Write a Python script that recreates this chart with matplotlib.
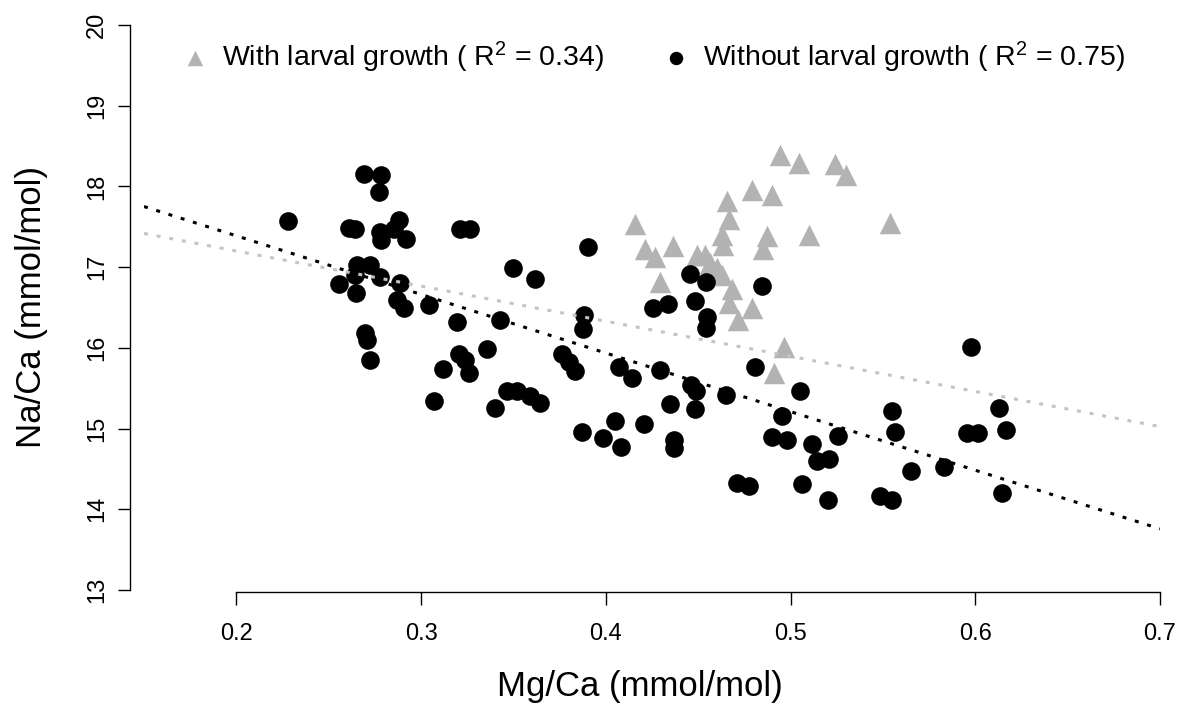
import matplotlib
matplotlib.use("Agg")
import matplotlib.pyplot as plt

plt.rcParams['font.family'] = ['Liberation Sans', 'DejaVu Sans']
plt.rcParams['mathtext.default'] = 'regular'

# Without larval growth (black circles)
mg_without = [0.2282, 0.2689, 0.2783, 0.2774, 0.2608, 0.2640, 0.2779, 0.2851, 0.2882, 0.2783,
              0.2916, 0.3212, 0.3266, 0.2653, 0.2725, 0.2644, 0.2776, 0.2557, 0.2649, 0.2887,
              0.2870, 0.2905, 0.3041, 0.3194, 0.3425, 0.2698, 0.2707, 0.2725, 0.3116, 0.3207,
              0.3239, 0.3257, 0.3357, 0.3068, 0.3398, 0.3465, 0.3519, 0.3592, 0.3645, 0.3500,
              0.3618, 0.3901, 0.3762, 0.3798, 0.3834, 0.3883, 0.3876, 0.3871, 0.3983, 0.4051,
              0.4083, 0.4209, 0.4069, 0.4143, 0.4291, 0.4348, 0.4370, 0.4370, 0.4258, 0.4339,
              0.4457, 0.4543, 0.4484, 0.4550, 0.4542, 0.4843, 0.4462, 0.4486, 0.4484, 0.4650,
              0.4709, 0.4776, 0.4808, 0.4899, 0.4983, 0.4953, 0.5052, 0.5061, 0.5118, 0.5142,
              0.5209, 0.5259, 0.5202, 0.5550, 0.5566, 0.5485, 0.5548, 0.5651, 0.5833, 0.5976,
              0.5956, 0.6015, 0.6131, 0.6167, 0.6143]
na_without = [17.57, 18.16, 18.14, 17.93, 17.49, 17.47, 17.44, 17.47, 17.59, 17.34,
              17.35, 17.47, 17.47, 17.03, 17.03, 16.90, 16.88, 16.79, 16.68, 16.80,
              16.59, 16.50, 16.53, 16.32, 16.35, 16.18, 16.10, 15.85, 15.74, 15.92,
              15.85, 15.69, 15.99, 15.34, 15.26, 15.47, 15.46, 15.40, 15.32, 16.99,
              16.85, 17.25, 15.92, 15.83, 15.71, 16.41, 16.23, 14.96, 14.88, 15.09,
              14.77, 15.06, 15.76, 15.63, 15.73, 15.30, 14.86, 14.76, 16.50, 16.54,
              16.92, 16.81, 16.58, 16.38, 16.25, 16.77, 15.54, 15.46, 15.24, 15.42,
              14.33, 14.29, 15.76, 14.90, 14.86, 15.15, 15.46, 14.31, 14.81, 14.60,
              14.62, 14.91, 14.12, 15.22, 14.96, 14.16, 14.11, 14.48, 14.52, 16.01,
              14.94, 14.94, 15.25, 14.98, 14.20]

# With larval growth (grey triangles)
mg_with = [0.4159, 0.4213, 0.4267, 0.4366, 0.4294, 0.4493, 0.4538, 0.4565, 0.4601, 0.4628,
           0.4682, 0.4669, 0.4791, 0.4715, 0.4628, 0.4637, 0.4669, 0.4655, 0.4794, 0.4899,
           0.4944, 0.5048, 0.5241, 0.5299, 0.4872, 0.4853, 0.5100, 0.5539, 0.4962, 0.4911]
na_with = [17.54, 17.23, 17.13, 17.26, 16.81, 17.15, 17.15, 17.05, 16.99, 16.90,
           16.73, 16.55, 16.49, 16.35, 17.40, 17.28, 17.60, 17.82, 17.95, 17.89,
           18.39, 18.29, 18.28, 18.14, 17.38, 17.22, 17.40, 17.55, 16.01, 15.69]

# fitted lines (intercept, slope)
fit_without = (18.84, -7.26)
fit_with = (18.07, -4.35)

legend_labels = ["With larval growth ( R$^2$ = 0.34)", "Without larval growth ( R$^2$ = 0.75)"]

fig = plt.figure(figsize=(11.88, 7.09), dpi=100)
ax = fig.add_axes([144 / 1188, 1 - 590 / 709, 1016 / 1188, 565 / 709])

ax.scatter(mg_with, na_with, marker='^', s=240, color='#B3B3B3', linewidths=0, zorder=2,
           label=legend_labels[0])
ax.scatter(mg_without, na_without, marker='o', s=180, color='black', linewidths=0, zorder=3,
           label=legend_labels[1])

ax.axline((0, fit_with[0]), slope=fit_with[1], color='#C4C4C4', lw=2.2,
          linestyle=(0, (1.3, 2.9)), zorder=4)
ax.axline((0, fit_without[0]), slope=fit_without[1], color='black', lw=2.2,
          linestyle=(0, (1.3, 2.9)), zorder=4)

ax.set_xlim(0.15, 0.7)
ax.set_ylim(13, 20)
ax.set_xticks([0.2, 0.3, 0.4, 0.5, 0.6, 0.7])
ax.set_yticks([13, 14, 15, 16, 17, 18, 19, 20])

for s in ['top', 'right']:
    ax.spines[s].set_visible(False)
ax.spines['left'].set_bounds(13, 20)
ax.spines['left'].set_position(('outward', 10))
ax.spines['bottom'].set_bounds(0.2, 0.7)
ax.spines['bottom'].set_position(('outward', 1.5))
ax.spines['left'].set_linewidth(1.0)
ax.spines['bottom'].set_linewidth(1.0)

ax.tick_params(axis='both', length=9, width=1.0, labelsize=17)
ax.tick_params(axis='x', pad=13)
ax.tick_params(axis='y', pad=7)
for lab in ax.get_yticklabels():
    lab.set_rotation(90)
    lab.set_va('center')

ax.set_xlabel("Mg/Ca (mmol/mol)", fontsize=25)
ax.set_ylabel("Na/Ca (mmol/mol)", fontsize=25)
ax.xaxis.set_label_coords(0.488, -0.142)
ax.yaxis.set_label_coords(-0.094, 0.5)

fig.legend(loc='center left', bbox_to_anchor=(181 / 1188, 1 - 57 / 709), ncol=2,
           frameon=False, fontsize=20.5, markerscale=0.72, handlelength=1.0,
           handletextpad=0.45, columnspacing=2.0, borderpad=0, borderaxespad=0)

fig.savefig("out.png", dpi=100)
